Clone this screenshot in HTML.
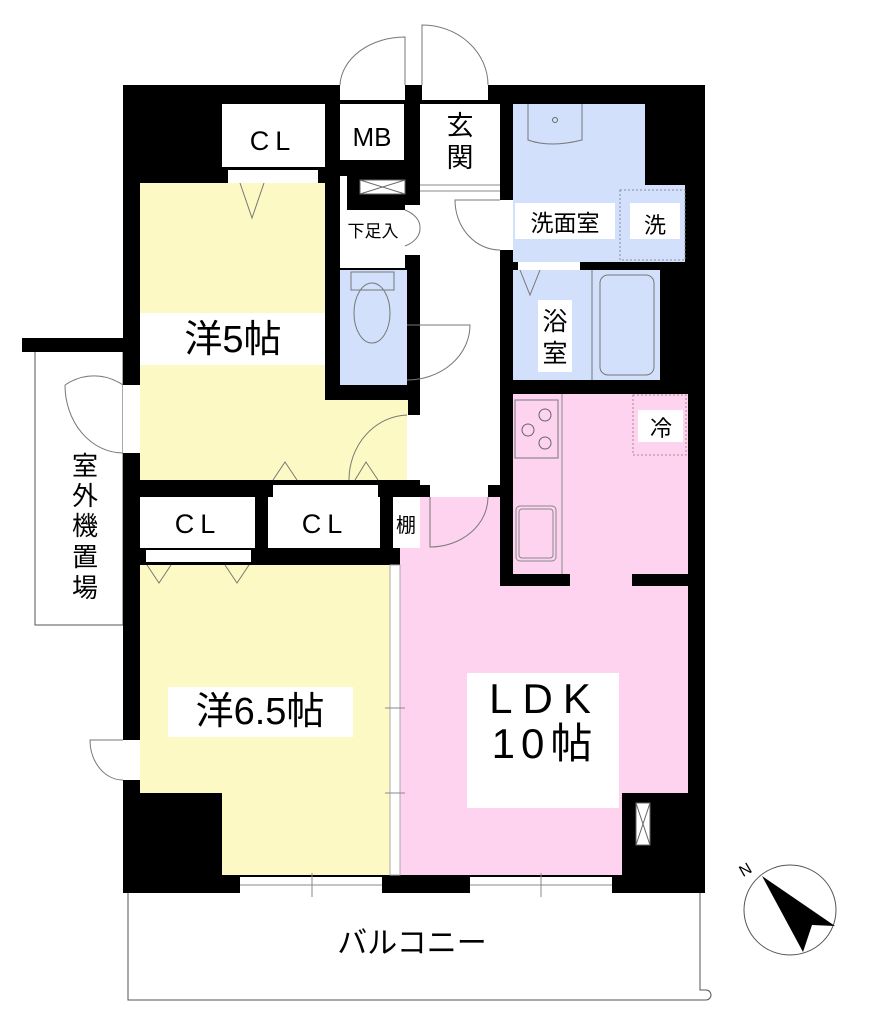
<!DOCTYPE html>
<html><head><meta charset="utf-8"><style>
html,body{margin:0;padding:0;background:#fff;}
svg{display:block}
text{font-family:"Liberation Sans","Noto Sans CJK JP",sans-serif;fill:#000}
</style></head><body>
<svg width="876" height="1024" viewBox="0 0 876 1024" xmlns="http://www.w3.org/2000/svg">
<!-- outdoor unit area -->
<rect x="35" y="350" width="88" height="275" fill="#fff" stroke="#555" stroke-width="1"/>
<rect x="22" y="338" width="101" height="14" fill="#000"/>
<!-- balcony -->
<path d="M128 893 V1000 H706 A5 5 0 0 0 706 990 H700 V893" fill="none" stroke="#555" stroke-width="1"/>
<!-- building -->
<rect x="123" y="85" width="582" height="808" fill="#000"/>
<!-- yellow rooms -->
<path d="M140 183 H325 V400 H408 V480 H140 Z" fill="#fdf9c4"/>
<path d="M140 565 H390 V875 H222 V793 H140 Z" fill="#fdf9c4"/>
<!-- LDK -->
<path d="M400 497 H500 V586 H570 V574 H632 V586 H688 V793 H622 V875 H400 Z" fill="#fdd3ef"/>
<rect x="513" y="394" width="175" height="180" fill="#fdd3ef"/>
<line x1="562" y1="394" x2="562" y2="574" stroke="#888"/>
<rect x="515" y="400" width="43" height="58" fill="none" stroke="#777"/>
<g fill="none" stroke="#666">
<circle cx="545" cy="415" r="6"/><circle cx="528" cy="430" r="6"/><circle cx="545" cy="443" r="6"/></g>
<rect x="516" y="506" width="40" height="55" rx="4" fill="none" stroke="#888"/>
<rect x="519" y="509" width="34" height="49" rx="3" fill="none" stroke="#888"/>
<rect x="633" y="395" width="53" height="60" fill="none" stroke="#a88" stroke-dasharray="2 2"/>
<rect x="638" y="410" width="45" height="32" fill="#fff"/>
<text x="661" y="436" font-size="22" text-anchor="middle">冷</text>
<!-- blue rooms -->
<path d="M513 104 H645 V185 H685 V262 H513 Z" fill="#d3e0fb"/>
<path d="M528 104 V140 Q550 148 582 140 V104" fill="none" stroke="#777"/>
<circle cx="555" cy="120" r="2.5" fill="none" stroke="#666"/>
<rect x="620" y="190" width="65" height="70" fill="none" stroke="#889" stroke-dasharray="2 2"/>
<rect x="630" y="203" width="50" height="36" fill="#fff"/>
<text x="655" y="233" font-size="22" text-anchor="middle">洗</text>
<rect x="515" y="203" width="100" height="36" fill="#fff"/>
<text x="565" y="231" font-size="23" text-anchor="middle">洗面室</text>
<rect x="513" y="270" width="147" height="110" fill="#d3e0fb"/>
<line x1="592" y1="270" x2="592" y2="380" stroke="#777"/>
<rect x="600" y="275" width="54" height="100" rx="8" fill="none" stroke="#777"/>
<rect x="518" y="262" width="62" height="8" fill="#fff"/>
<path d="M520 270 L530 295 L540 270" fill="none" stroke="#777"/>
<rect x="538" y="300" width="34" height="72" fill="#fff"/>
<text x="555" y="330" font-size="25" text-anchor="middle">浴</text>
<text x="555" y="362" font-size="25" text-anchor="middle">室</text>
<rect x="340" y="270" width="67" height="115" fill="#d3e0fb"/>
<rect x="351" y="272" width="43" height="18" fill="none" stroke="#777"/>
<ellipse cx="372" cy="313" rx="18" ry="30" fill="none" stroke="#777"/>
<!-- white spaces -->
<rect x="420" y="104" width="80" height="381" fill="#fff"/>
<line x1="420" y1="185" x2="500" y2="185" stroke="#888"/>
<line x1="420" y1="191" x2="500" y2="191" stroke="#888"/>
<rect x="222" y="104" width="103" height="63" fill="#fff"/>
<rect x="228" y="170" width="90" height="13" fill="#fff"/>
<path d="M240 183 L252 218 L264 183" fill="none" stroke="#777"/>
<rect x="340" y="104" width="64" height="56" fill="#fff"/>
<rect x="360" y="180" width="45" height="14" fill="#fff" stroke="#666"/>
<path d="M360 180 L405 194 M405 180 L360 194" stroke="#666"/>
<rect x="340" y="176" width="7" height="34" fill="#fff"/>
<rect x="340" y="210" width="65" height="58" fill="#fff"/>
<rect x="340" y="85" width="65" height="15" fill="#fff"/>
<rect x="422" y="85" width="66" height="15" fill="#fff"/>
<path d="M405 85 V37 A65 50 0 0 0 340 85 M422 85 V25 A66 60 0 0 1 488 85" fill="none" stroke="#777"/>
<path d="M500 200 H455 A45 50 0 0 0 500 250" fill="none" stroke="#777"/>
<rect x="500" y="200" width="13" height="50" fill="#fff"/>
<path d="M407 325 H470 A63 55 0 0 1 407 380" fill="none" stroke="#777"/>
<rect x="405" y="205" width="15" height="50" fill="#fff"/>
<path d="M405 210 A30 20 0 0 1 420 228 A30 20 0 0 1 405 246" fill="none" stroke="#777"/>
<rect x="407" y="415" width="13" height="65" fill="#fff"/>
<path d="M407 415 A60 65 0 0 0 349 480" fill="none" stroke="#777"/>
<path d="M273 480 L285 462 L297 480 M355 480 L366 462 L378 480" fill="none" stroke="#777"/>
<rect x="273" y="485" width="105" height="12" fill="#fff"/>
<rect x="430" y="485" width="58" height="12" fill="#fff"/>
<path d="M430 497 V547 A58 50 0 0 0 488 497" fill="none" stroke="#777"/>
<rect x="140" y="497" width="115" height="51" fill="#fff"/>
<rect x="268" y="497" width="112" height="51" fill="#fff"/>
<rect x="393" y="497" width="27" height="51" fill="#fff"/>
<rect x="146" y="550" width="105" height="12" fill="#fff"/>
<path d="M147 565 L159 583 L171 565 M225 565 L237 583 L249 565" fill="none" stroke="#777"/>
<rect x="390" y="565" width="10" height="310" fill="#fff" stroke="#aaa"/>
<line x1="385" y1="708" x2="405" y2="708" stroke="#888"/><line x1="385" y1="793" x2="405" y2="793" stroke="#888"/>
<rect x="240" y="877" width="142" height="16" fill="#fff"/>
<rect x="470" y="877" width="142" height="16" fill="#fff"/>
<line x1="240" y1="885" x2="382" y2="885" stroke="#888"/><line x1="470" y1="885" x2="612" y2="885" stroke="#888"/>
<line x1="312" y1="873" x2="312" y2="897" stroke="#888"/><line x1="541" y1="873" x2="541" y2="897" stroke="#888"/>
<rect x="123" y="385" width="17" height="68" fill="#fff"/>
<path d="M123 385 A58 68 0 0 0 65 385 M123 453 A58 68 0 0 1 65 385" fill="none" stroke="#777"/>
<rect x="123" y="740" width="17" height="40" fill="#fff"/>
<path d="M123 740 H90 A33 40 0 0 0 123 780" fill="none" stroke="#777"/>
<rect x="636" y="803" width="14" height="42" fill="#fff" stroke="#666"/>
<path d="M636 803 L650 845 M650 803 L636 845" stroke="#666"/>
<!-- labels -->
<text x="273" y="150" font-size="27" text-anchor="middle" letter-spacing="6">CL</text>
<text x="372" y="146" font-size="26" text-anchor="middle">MB</text>
<text x="460" y="135" font-size="27" text-anchor="middle">玄</text>
<text x="460" y="167" font-size="27" text-anchor="middle">関</text>
<text x="373" y="237" font-size="17" text-anchor="middle">下足入</text>
<rect x="140" y="313" width="185" height="52" fill="#fff"/>
<text x="233" y="352" font-size="38" text-anchor="middle">洋5帖</text>
<text x="198" y="533" font-size="27" text-anchor="middle" letter-spacing="6">CL</text>
<text x="325" y="533" font-size="27" text-anchor="middle" letter-spacing="6">CL</text>
<text x="406" y="532" font-size="20" text-anchor="middle">棚</text>
<rect x="168" y="687" width="185" height="50" fill="#fff"/>
<text x="260" y="724" font-size="38" text-anchor="middle">洋6.5帖</text>
<rect x="467" y="673" width="152" height="135" fill="#fff"/>
<text x="545" y="713" font-size="42" text-anchor="middle" letter-spacing="10">LDK</text>
<text x="545" y="758" font-size="42" text-anchor="middle" letter-spacing="6">10帖</text>
<text x="85" y="475" font-size="26" text-anchor="middle">室</text>
<text x="85" y="505" font-size="26" text-anchor="middle">外</text>
<text x="85" y="535" font-size="26" text-anchor="middle">機</text>
<text x="85" y="566" font-size="26" text-anchor="middle">置</text>
<text x="85" y="597" font-size="26" text-anchor="middle">場</text>
<text x="412" y="953" font-size="30" text-anchor="middle">バルコニー</text>
<!-- compass -->
<ellipse cx="790" cy="910" rx="46" ry="45" fill="none" stroke="#555"/>
<path d="M762 876 L835 926 L812 925 L803 952 Z" fill="#000"/>
<text x="740" y="878" font-size="16" transform="rotate(-30 740 872)" fill="#555">N</text>
</svg>
</body></html>
